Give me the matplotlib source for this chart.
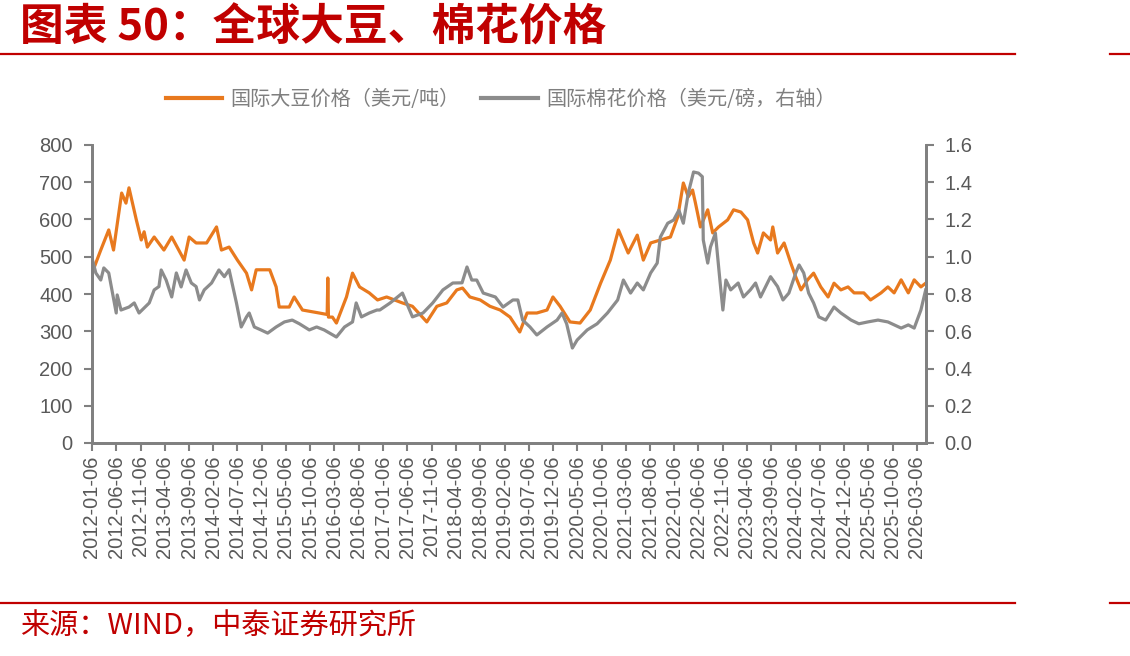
import numpy as np
import pandas as pd
import matplotlib
matplotlib.use("Agg")
import matplotlib.pyplot as plt
import matplotlib.dates as mdates
from matplotlib.lines import Line2D

plt.rcParams['font.family'] = ['Liberation Sans', 'Noto Sans CJK SC', 'DejaVu Sans']

# 国际大豆价格（美元/吨）
soy_dates = ["2012-01-06", "2012-03-01", "2012-04-20", "2012-05-20", "2012-07-10", "2012-08-06",
             "2012-08-25", "2012-10-10", "2012-11-10", "2012-11-28", "2012-12-18", "2013-01-30",
             "2013-04-01", "2013-05-20", "2013-08-06", "2013-09-06", "2013-10-20", "2013-12-25",
             "2014-02-25", "2014-03-28", "2014-05-15", "2014-07-06", "2014-09-01", "2014-10-03",
             "2014-11-01", "2015-01-25", "2015-03-06", "2015-03-25", "2015-05-27", "2015-06-27",
             "2015-08-18", "2015-12-01", "2016-01-20", "2016-01-24", "2016-01-28", "2016-02-22",
             "2016-03-18", "2016-05-20", "2016-06-27", "2016-08-10", "2016-10-10", "2016-12-01",
             "2017-01-27", "2017-05-06", "2017-07-08", "2017-10-06", "2017-12-08", "2018-02-08",
             "2018-04-12", "2018-05-18", "2018-07-03", "2018-09-06", "2018-11-06", "2019-01-09",
             "2019-03-12", "2019-05-12", "2019-06-27", "2019-08-27", "2019-10-30", "2019-12-06",
             "2020-01-20", "2020-03-22", "2020-05-24", "2020-07-27", "2020-09-30", "2020-11-30",
             "2021-01-20", "2021-03-22", "2021-05-18", "2021-06-25", "2021-08-10", "2021-10-10",
             "2021-12-12", "2022-01-27", "2022-03-03", "2022-04-03", "2022-04-30", "2022-05-18",
             "2022-06-18", "2022-08-03", "2022-09-03", "2022-10-10", "2022-12-06", "2023-01-12",
             "2023-02-27", "2023-04-10", "2023-05-18", "2023-06-12", "2023-07-18", "2023-09-01",
             "2023-09-15", "2023-10-15", "2023-11-25", "2024-01-06", "2024-02-06", "2024-03-10",
             "2024-04-20", "2024-05-28", "2024-07-12", "2024-08-27", "2024-10-03", "2024-11-15",
             "2024-12-30", "2025-02-06", "2025-04-08", "2025-05-20", "2025-07-25", "2025-09-06",
             "2025-10-15", "2025-11-28", "2026-01-12", "2026-02-18", "2026-04-01", "2026-05-01"]
soy_vals = [456, 518, 572, 518, 671, 644,
            685, 599, 545, 567, 526, 553,
            518, 553, 491, 553, 537, 537,
            580, 518, 526, 491, 456, 411,
            465, 465, 419, 365, 365, 392,
            357, 349, 345, 443, 338, 338,
            322, 392, 456, 419, 403, 384,
            392, 376, 367, 325, 367, 376,
            411, 416, 392, 384, 367, 357,
            338, 298, 349, 349, 357, 392,
            367, 325, 322, 357, 429, 491,
            572, 510, 558, 491, 537, 545,
            553, 607, 698, 661, 679, 644,
            580, 626, 564, 580, 599, 626,
            620, 599, 537, 510, 564, 545,
            580, 510, 537, 483, 446, 411,
            438, 456, 419, 392, 429, 411,
            419, 403, 403, 384, 403, 419,
            403, 438, 403, 438, 419, 429]

# 国际棉花价格（美元/磅，右轴）
cot_dates = ["2012-01-06", "2012-01-30", "2012-03-01", "2012-03-20", "2012-04-20", "2012-06-06",
             "2012-06-12", "2012-07-06", "2012-08-25", "2012-09-27", "2012-10-27", "2012-11-28",
             "2012-12-30", "2013-01-30", "2013-03-01", "2013-03-15", "2013-04-15", "2013-05-20",
             "2013-06-18", "2013-07-18", "2013-08-18", "2013-09-20", "2013-10-20", "2013-11-10",
             "2013-12-10", "2014-01-25", "2014-03-12", "2014-04-15", "2014-05-15", "2014-06-30",
             "2014-07-30", "2014-09-01", "2014-09-18", "2014-10-20", "2014-12-01", "2015-01-12",
             "2015-03-06", "2015-04-27", "2015-06-15", "2015-07-30", "2015-09-30", "2015-11-15",
             "2016-01-01", "2016-03-18", "2016-05-08", "2016-06-27", "2016-07-20", "2016-08-22",
             "2016-10-10", "2016-11-27", "2016-12-15", "2017-02-18", "2017-05-06", "2017-07-08",
             "2017-09-12", "2017-11-12", "2018-01-15", "2018-03-18", "2018-05-15", "2018-06-15",
             "2018-07-15", "2018-08-15", "2018-09-25", "2018-12-10", "2019-01-27", "2019-03-30",
             "2019-04-30", "2019-05-30", "2019-07-15", "2019-08-27", "2019-10-30", "2020-01-01",
             "2020-02-01", "2020-03-01", "2020-04-06", "2020-05-06", "2020-07-08", "2020-09-08",
             "2020-11-12", "2021-01-15", "2021-02-20", "2021-04-06", "2021-05-18", "2021-06-25",
             "2021-08-10", "2021-09-20", "2021-10-10", "2021-11-25", "2022-01-01", "2022-02-03",
             "2022-03-03", "2022-04-03", "2022-05-06", "2022-06-06", "2022-06-30", "2022-07-06",
             "2022-08-03", "2022-08-20", "2022-09-20", "2022-10-20", "2022-11-06", "2022-11-25",
             "2022-12-25", "2023-02-10", "2023-03-15", "2023-04-27", "2023-05-30", "2023-06-30",
             "2023-09-01", "2023-10-15", "2023-11-18", "2023-12-25", "2024-02-06", "2024-02-27",
             "2024-03-27", "2024-04-27", "2024-05-28", "2024-06-30", "2024-08-12", "2024-10-03",
             "2024-11-15", "2025-01-18", "2025-03-08", "2025-05-03", "2025-07-06", "2025-09-06",
             "2025-11-28", "2026-01-12", "2026-02-18", "2026-04-01", "2026-05-01"]
cot_vals = [0.993, 0.913, 0.875, 0.94, 0.913, 0.698,
            0.795, 0.714, 0.73, 0.752, 0.698, 0.725,
            0.752, 0.822, 0.84, 0.929, 0.875, 0.784,
            0.913, 0.838, 0.929, 0.859, 0.84, 0.768,
            0.822, 0.859, 0.929, 0.893, 0.93, 0.752,
            0.623, 0.677, 0.698, 0.623, 0.607, 0.59,
            0.623, 0.65, 0.66, 0.64, 0.607, 0.623,
            0.607, 0.569, 0.623, 0.65, 0.752, 0.677,
            0.698, 0.714, 0.714, 0.752, 0.805, 0.677,
            0.698, 0.752, 0.822, 0.859, 0.86, 0.945,
            0.875, 0.875, 0.805, 0.784, 0.73, 0.768,
            0.768, 0.66, 0.623, 0.58, 0.623, 0.66,
            0.698, 0.64, 0.51, 0.553, 0.607, 0.64,
            0.698, 0.768, 0.875, 0.805, 0.859, 0.822,
            0.913, 0.966, 1.106, 1.18, 1.197, 1.25,
            1.18, 1.342, 1.455, 1.449, 1.43, 1.09,
            0.966, 1.052, 1.127, 0.859, 0.714, 0.875,
            0.822, 0.859, 0.784, 0.822, 0.859, 0.784,
            0.893, 0.84, 0.768, 0.805, 0.913, 0.956,
            0.913, 0.805, 0.752, 0.677, 0.66, 0.73,
            0.698, 0.66, 0.64, 0.65, 0.66, 0.65,
            0.617, 0.634, 0.617, 0.714, 0.822]

# x 轴刻度：2012-01-06 起每 5 个月一个
tick_dates = pd.date_range("2012-01-06", "2026-03-06", freq=pd.DateOffset(months=5))

soy = pd.Series(soy_vals, index=pd.to_datetime(soy_dates))
cot = pd.Series(cot_vals, index=pd.to_datetime(cot_dates))

RED = "#C00000"
ORANGE = "#E8791E"
GREY = "#8C8C8C"
AXC = "#808080"
TXT = "#595959"

fig = plt.figure(figsize=(11.3, 6.56), dpi=100)
ax = fig.add_axes([92/1130, 1-443/656, 834/1130, 298/656])
ax2 = ax.twinx()

ax.plot(soy.index, soy.values, color=ORANGE, lw=2.3)
ax2.plot(cot.index, cot.values, color=GREY, lw=2.3)

ax.set_ylim(0, 800); ax.set_yticks(range(0, 801, 100))
ax2.set_ylim(0, 1.6); ax2.set_yticks(np.arange(0, 1.61, 0.2))
ax2.yaxis.set_major_formatter(matplotlib.ticker.FormatStrFormatter("%.1f"))
ax.set_xlim(pd.Timestamp("2012-01-06"), pd.Timestamp("2026-05-03"))
ax.set_xticks(tick_dates)
ax.xaxis.set_major_formatter(mdates.DateFormatter("%Y-%m-%d"))

for a in (ax, ax2):
    a.spines["top"].set_visible(False)
    for s in ("left", "right", "bottom"):
        a.spines[s].set_color(AXC)
        a.spines[s].set_linewidth(2)
    a.tick_params(colors=AXC, labelcolor=TXT, width=1.5, length=6, labelsize=14.5)
ax.tick_params(axis="x", labelrotation=90, pad=3)
ax.tick_params(axis="y", pad=8)
ax2.tick_params(axis="y", pad=7)

handles = [Line2D([], [], color=ORANGE, lw=3), Line2D([], [], color=GREY, lw=3)]
fig.legend(handles, ["国际大豆价格（美元/吨）", "国际棉花价格（美元/磅，右轴）"],
           loc="center", bbox_to_anchor=(0.443, 1-100/656), ncol=2, frameon=False,
           prop={"family": "Noto Sans CJK SC", "size": 14.5}, labelcolor="#7F7F7F",
           handlelength=2.8, handletextpad=0.4, columnspacing=1.1)

fig.text(20/1130, 1-28/656, "图表 50：全球大豆、棉花价格", color=RED, fontsize=31.5,
         fontweight="bold", va="center", ha="left", family=["Noto Sans CJK SC", "DejaVu Sans"])
fig.text(20/1130, 1-626/656, "来源：WIND，中泰证券研究所", color=RED, fontsize=21,
         va="center", ha="left", family=["Noto Sans CJK SC", "DejaVu Sans"])

for ypx in (54, 603):
    y = 1 - ypx/656
    fig.add_artist(Line2D([0, 1015/1130], [y, y], color=RED, lw=1.6))
    fig.add_artist(Line2D([1110/1130, 1], [y, y], color=RED, lw=1.6))

fig.savefig("out.png", dpi=100)
